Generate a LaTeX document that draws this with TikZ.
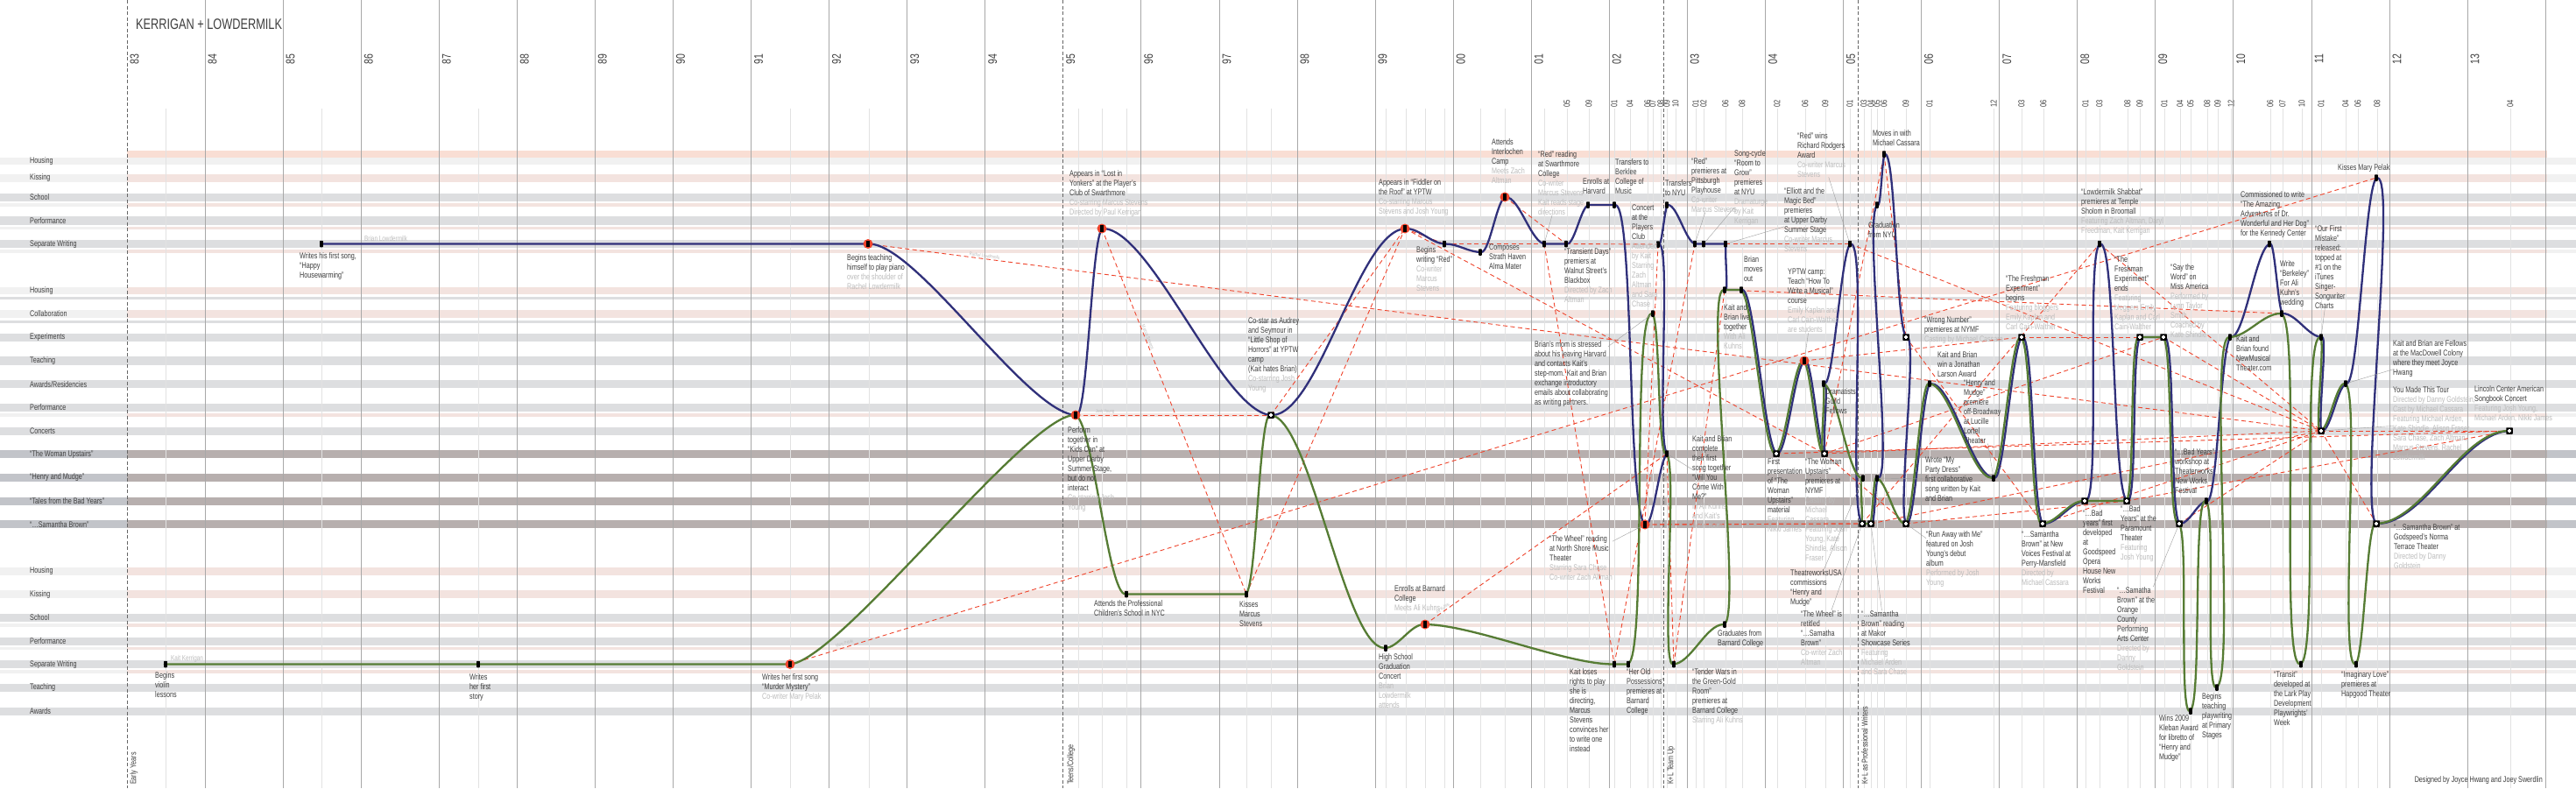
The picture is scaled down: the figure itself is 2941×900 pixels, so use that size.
\documentclass[tikz,border=0pt]{standalone}
\usepackage{fontspec}
\setmainfont[FakeStretch=0.75]{Liberation Sans}
\usetikzlibrary{calc}

\definecolor{bandgray}{RGB}{221,222,224}
\definecolor{lightband}{RGB}{241,241,241}
\definecolor{pinkband}{RGB}{243,227,223}
\definecolor{toppink}{RGB}{249,222,212}
\definecolor{projband}{RGB}{183,175,174}
\definecolor{projlabel}{RGB}{194,196,201}
\definecolor{yrgray}{RGB}{168,168,168}
\definecolor{mogray}{RGB}{226,226,226}
\definecolor{kblue}{RGB}{48,48,122}
\definecolor{kgreen}{RGB}{86,124,52}
\definecolor{kred}{RGB}{239,68,44}
\definecolor{txt}{RGB}{62,62,62}
\definecolor{subtxt}{RGB}{188,188,188}

\pgfdeclarelayer{bands}
\pgfdeclarelayer{links}
\pgfsetlayers{bands,links,main}

\newcommand\evfont{\fontsize{9.6}{11}\selectfont}
\newcommand\evsub[1]{\textcolor{subtxt}{#1}}

\tikzset{
  ev/.style={anchor=north west, align=left, inner sep=0pt, text=txt, font=\evfont},
  rowlab/.style={anchor=west, inner sep=0pt, text=txt, font=\evfont},
  yearlab/.style={rotate=90, inner sep=0pt, text=txt, font=\fontsize{14}{14}\selectfont},
  monthlab/.style={rotate=90, inner sep=0pt, text=txt, font=\fontsize{10}{10}\selectfont},
  eralab/.style={rotate=90, anchor=west, inner sep=0pt, text=txt, font=\evfont},
  tiny/.style={inner sep=0pt, text=subtxt, font=\fontsize{8.5}{9}\selectfont},
  cname/.style={inner sep=1pt, text=subtxt, font=\fontsize{5.5}{6}\selectfont},
  mk/.style={fill=black, minimum width=3.6pt, minimum height=7.5pt, inner sep=0pt, rounded corners=0.6pt},
  mkplus/.style={fill=black, minimum size=7.5pt, inner sep=0pt, rounded corners=0.6pt,
    path picture={\draw[white, line width=1.1pt, sharp corners]
      ([yshift=-1.4pt]path picture bounding box.north) -- ([yshift=1.4pt]path picture bounding box.south)
      ([xshift=1.4pt]path picture bounding box.west) -- ([xshift=-1.4pt]path picture bounding box.east);}},
  mkred/.style={circle, fill=kred, minimum size=11pt, inner sep=0pt,
    path picture={\fill[black] ([shift={(-1.8pt,-3.7pt)}]path picture bounding box.center)
      rectangle ([shift={(1.8pt,3.7pt)}]path picture bounding box.center);}},
  yrline/.style={draw=yrgray, line width=0.9pt},
  moline/.style={draw=mogray, line width=0.8pt},
  eraline/.style={draw=black!60, line width=0.9pt, dash pattern=on 4pt off 2.5pt},
  collab/.style={draw=kred, line width=0.9pt, dash pattern=on 5pt off 3.5pt},
  lead/.style={draw=black!38, line width=0.4pt},
  brian/.style={draw=kblue, line width=2.3pt, line cap=round, line join=round, transform canvas={xshift=1.2pt}},
  kait/.style={draw=kgreen, line width=2.3pt, line cap=round, line join=round, transform canvas={xshift=-1.2pt}},
  link/.style={to path={let \p1=(\tikztostart), \p2=(\tikztotarget),
    \n1={ifthenelse(\x2>=\x1,1,-1)*min(55,max(0.35*abs(\x2-\x1),0.06*abs(\y2-\y1)))} in
    .. controls ({\x1+\n1},\y1) and ({\x2-\n1},\y2) .. (\tikztotarget)}}
}

\begin{document}
\begin{tikzpicture}[x=1pt,y=-1pt]
\useasboundingbox (0,0) rectangle (2941,900);

% ---- rows, years, months
\begin{pgfonlayer}{bands}
\fill[white] (0,0) rectangle (2941,900);
\foreach \ya/\yb/\cl/\cm in {
  172.3/180/white/toppink, 180/187.5/lightband/lightband, 199.3/207.7/lightband/pinkband,
  220.7/230/bandgray/bandgray, 232.3/235.7/lightband/pinkband, 247.3/256.7/bandgray/bandgray,
  258.7/262/lightband/pinkband, 274/283.3/bandgray/bandgray, 285.3/288.7/lightband/pinkband,
  327.7/336/lightband/pinkband, 339/342.3/bandgray/bandgray, 354/362.7/lightband/pinkband,
  365.7/369/bandgray/bandgray, 381/390/bandgray/bandgray, 407.3/416.7/bandgray/bandgray,
  434/443.3/bandgray/bandgray, 461/470/bandgray/bandgray, 472.3/475.7/lightband/pinkband,
  487.7/496.7/bandgray/bandgray, 514.3/523.3/projlabel/projband, 541/550/projlabel/projband,
  567.7/576.7/projlabel/projband, 594.3/603.3/projlabel/projband, 647.7/656.7/lightband/pinkband,
  674.3/683.3/lightband/pinkband, 701/710/bandgray/bandgray, 712/715.7/lightband/pinkband,
  727.7/736.7/bandgray/bandgray, 738.7/742.3/lightband/pinkband, 754.3/763.3/bandgray/bandgray,
  765.3/769/lightband/pinkband, 781/790/bandgray/bandgray, 807.7/816.7/bandgray/bandgray}
  {\fill[\cl] (0,\ya) rectangle (2941,\yb);
   \fill[\cm] (145,\ya) rectangle (2908,\yb);}

\foreach \mx in {189,367,546,902.7,992,1231.7,1258.7,1286,1423,1451,1582.7,1605,1627,1649,1690.7,1718,1763}
  \draw[moline] (\mx,124) -- (\mx,900);
\foreach \mx/\ml in {1789/05,1814/09,1843/01,1861/04,1881/06,1887/07,1896/08,1903/09,1913/10,
  1936/01,1945/02,1970/06,1989/08,2029/02,2061/06,2084/09,2112/01,2128/03,2136/04,2143/05,
  2151/06,2176/09,2203/01,2276/12,2308/03,2333/06,2381/01,2397/03,2429/08,2443/09,2471/01,
  2489/04,2501/05,2520/08,2532/09,2547/12,2592/06,2606/07,2628/10,2650/01,2678/04,2692/06,
  2714/08,2866/04}
  {\draw[moline] (\mx,124) -- (\mx,900);
   \node[monthlab] (mo-\mx) at (\mx,118.5) {\ml};}

\foreach \i in {1,...,11,13,14,...,31}
  \draw[yrline] ({145+89.07*\i},0) -- ++(0,900);
\foreach \ex in {145,1213.8,1899,2121}
  \draw[eraline] (\ex,0) -- (\ex,900);
\end{pgfonlayer}

\foreach \yr [count=\i from 0] in {83,84,85,86,87,88,89,90,91,92,93,94,95,96,97,98,99,
  00,01,02,03,04,05,06,07,08,09,10,11,12,13}
  \node[yearlab] (yr\i) at ({153.5+89.07*\i},67.5) {\yr};

\node[anchor=west, inner sep=0pt, text=txt, font=\fontsize{17}{17}\selectfont] (title) at (155,28) {KERRIGAN + LOWDERMILK};

\foreach \ry/\rt [count=\r] in {184/Housing, 203.5/Kissing, 225.5/School, 252/Performance,
  278.7/Separate Writing, 332/Housing, 358.4/Collaboration, 385.5/Experiments, 412/Teaching,
  438.7/Awards\slash Residencies, 465.5/Performance, 492.2/Concerts,
  518.8/``The Woman Upstairs'', 545.5/``Henry and Mudge'', 572.2/``Tales from the Bad Years'',
  598.8/``…Samantha Brown'', 652.2/Housing, 678.8/Kissing, 705.5/School, 732.2/Performance,
  758.8/Separate Writing, 785.5/Teaching, 812.2/Awards}
  \node[rowlab] (row\r) at (34,\ry) {\rt};

\node[eralab] (eraEarly) at (153,896) {Early Years};
\node[eralab] (eraTeens) at (1223,896) {Teens/College};
\node[eralab] (eraTeam) at (1908,896) {K+L Team Up};
\node[eralab] (eraPro) at (2129,896) {K+L as Professional Writers};
\node[anchor=east, inner sep=0pt, text=txt, font=\evfont] (credit) at (2903,891) {Designed by Joyce Hwang and Joey Swerdlin};

% ---- event markers: Brian
\node[mk] (happy) at (367,278.5) {};
\node[mkred] (piano) at (991,278.5) {};
\node[mkred] (yonkers) at (1258,261) {};
\node[mkred] (fiddler) at (1604,261) {};
\node[mk] (redbegin) at (1649,278.5) {};
\node[mk] (strath) at (1690,288) {};
\node[mkred] (interlochen) at (1718,225) {};
\node[mk] (redread) at (1763,278.5) {};
\node[mk] (transient) at (1788,278.5) {};
\node[mk] (harvard) at (1813,234) {};
\node[mk] (berklee) at (1843,234) {};
\node[mkred] (wheel) at (1878,599) {};
\node[mk] (players) at (1893,279) {};
\node[mk] (nyu) at (1903,234) {};
\node[mk] (redpitt) at (1935,278.5) {};
\node[mk] (roomgrow) at (1945,278.5) {};
\node[mk] (elliott) at (1970,278.5) {};
\node[mk] (rodgers) at (2112,278.5) {};
\node[mk] (gradnyu) at (2143,234) {};
\node[mk] (cassara) at (2151,176) {};
\node[mk] (shabbat) at (2397,278.5) {};
\node[mk] (kennedy) at (2591,278.5) {};
\node[mk] (pelak) at (2713,203) {};
% ---- event markers: Kait
\node[mk] (violin) at (189,758.5) {};
\node[mk] (story) at (546,758.5) {};
\node[mkred] (murder) at (902,758.5) {};
\node[mk] (pcs) at (1286,678.5) {};
\node[mk] (kissmarcus) at (1423,678.5) {};
\node[mk] (hsconcert) at (1582,740) {};
\node[mkred] (barnard) at (1627,713) {};
\node[mk] (rights) at (1843,758.5) {};
\node[mk] (possessions) at (1859,758.5) {};
\node[mk] (tender) at (1911,758.5) {};
\node[mk] (gradbarnard) at (1969,713) {};
\node[mk] (twusa) at (2127,546) {};
\node[mk] (kleban) at (2501,812) {};
\node[mk] (primary) at (2531,785) {};
\node[mk] (transit) at (2627,758.5) {};
\node[mk] (imaginary) at (2690,758.5) {};
% ---- event markers: both
\node[mkred] (kidscan) at (1228,474) {};
\node[mkplus] (littleshop) at (1451,474) {};
\node[mk] (emails) at (1887,358) {};
\node[mk] (firstsong) at (1903,518) {};
\node[mk] (together) at (1969,331) {};
\node[mk] (movesout) at (1988,331) {};
\node[mkplus] (firstpres) at (2028,518) {};
\node[mkred] (teachyptw) at (2060,412) {};
\node[mkplus] (twunymf) at (2083,518) {};
\node[mk] (fellows) at (2082,438) {};
\node[mkplus] (retitled) at (2126,598) {};
\node[mkplus] (makor) at (2136,598) {};
\node[mk] (partydress) at (2143,546) {};
\node[mkplus] (wrongnum) at (2176,385) {};
\node[mkplus] (runaway) at (2176,598) {};
\node[mk] (larson) at (2203,438) {};
\node[mk] (hmlortel) at (2276,546) {};
\node[mkplus] (freshbegin) at (2308,385) {};
\node[mkplus] (newvoices) at (2332,598) {};
\node[mkplus] (goodspeed) at (2380,572) {};
\node[mkplus] (paramount) at (2428,572) {};
\node[mkplus] (freshend) at (2443,385) {};
\node[mkplus] (saytheword) at (2470,385) {};
\node[mkplus] (orange) at (2488,598) {};
\node[mk] (badworkshop) at (2519,572) {};
\node[mk] (nmt) at (2546,385) {};
\node[mk] (berkeley) at (2605,358) {};
\node[mk] (mistake) at (2650,385) {};
\node[mkplus] (tour) at (2650,492) {};
\node[mk] (macdowell) at (2678,438) {};
\node[mkplus] (norma) at (2713,598) {};
\node[mkplus] (songbook) at (2865,492) {};

% ---- collaborators and the two lives
\begin{pgfonlayer}{links}
\foreach \a/\b/\who/\p in {
  piano/tour/Rachel Lowdermilk/.08, murder/pelak/Mary Pelak/.035,
  kidscan/littleshop/Josh Young/.15, littleshop/fiddler//.5, fiddler/twunymf//.5,
  twunymf/runaway//.5, runaway/paramount//.5, paramount/songbook//.5,
  yonkers/kissmarcus/Marcus Stevens/.3, kissmarcus/fiddler//.5, fiddler/redbegin//.5,
  redbegin/redread//.5, redread/rights//.5, rights/redpitt//.5, redpitt/elliott//.5,
  elliott/rodgers//.5, rodgers/tour//.5,
  interlochen/transient//.5, transient/players//.5, players/wheel//.5, wheel/retitled//.5,
  retitled/shabbat//.5, shabbat/tour//.5, wheel/makor//.5, makor/tour//.5,
  barnard/firstsong/Ali Kuhns/.08, firstsong/tender//.5, tender/together//.5, together/berkeley//.5,
  twunymf/cassara//.5, cassara/wrongnum//.5, wrongnum/newvoices//.5, newvoices/tour//.5,
  teachyptw/freshbegin//.5, freshbegin/freshend//.5, twunymf/saytheword//.5, saytheword/tour//.5,
  orange/tour//.5, tour/norma//.5, firstpres/songbook//.5, tour/songbook//.5, twunymf/tour//.5}
  \draw[collab] (\a.center) -- node[cname,pos=\p,sloped,above] (cn-\a-\b) {\who} (\b.center);

\draw[brian] (happy.center) to[link] (piano.center) to[link] (kidscan.center)
  to[link] (yonkers.center) to[link] (littleshop.center) to[link] (fiddler.center)
  to[link] (redbegin.center) to[link] (strath.center) to[link] (interlochen.center)
  to[link] (redread.center) to[link] (transient.center) to[link] (harvard.center)
  to[link] (berklee.center) to[link] (wheel.center) to[link] (firstsong.center)
  to[link] (players.center) to[link] (nyu.center) to[link] (redpitt.center)
  to[link] (roomgrow.center) to[link] (elliott.center) to[link] (together.center)
  to[link] (movesout.center) to[link] (firstpres.center) to[link] (teachyptw.center)
  to[link] (twunymf.center) to[link] (fellows.center) to[link] (rodgers.center)
  to[link] (retitled.center) to[link] (makor.center) to[link] (partydress.center)
  to[link] (gradnyu.center) to[link] (cassara.center) to[link] (wrongnum.center)
  to[link] (runaway.center) to[link] (larson.center) to[link] (hmlortel.center)
  to[link] (freshbegin.center) to[link] (newvoices.center) to[link] (goodspeed.center)
  to[link] (shabbat.center) to[link] (paramount.center) to[link] (freshend.center)
  to[link] (saytheword.center) to[link] (orange.center) to[link] (badworkshop.center)
  to[link] (nmt.center) to[link] (kennedy.center) to[link] (berkeley.center)
  to[link] (mistake.center) to[link] (tour.center) to[link] (macdowell.center)
  to[link] (pelak.center) to[link] (norma.center) to[link] (songbook.center);

\draw[kait] (violin.center) to[link] (story.center) to[link] (murder.center)
  to[link] (kidscan.center) to[link] (pcs.center) to[link] (kissmarcus.center)
  to[link] (littleshop.center) to[link] (hsconcert.center) to[link] (barnard.center)
  to[link] (rights.center) to[link] (possessions.center) to[link] (emails.center)
  to[link] (firstsong.center) to[link] (tender.center) to[link] (gradbarnard.center)
  to[link] (together.center) to[link] (movesout.center) to[link] (firstpres.center)
  to[link] (teachyptw.center) to[link] (twunymf.center) to[link] (fellows.center)
  to[link] (twusa.center) to[link] (retitled.center) to[link] (makor.center)
  to[link] (partydress.center) to[link] (runaway.center) to[link] (larson.center)
  to[link] (hmlortel.center) to[link] (freshbegin.center) to[link] (newvoices.center)
  to[link] (goodspeed.center) to[link] (paramount.center) to[link] (freshend.center)
  to[link] (saytheword.center) to[link] (orange.center) to[link] (kleban.center)
  to[link] (badworkshop.center) to[link] (primary.center) to[link] (nmt.center)
  to[link] (berkeley.center) to[link] (transit.center) to[link] (mistake.center)
  to[link] (tour.center) to[link] (macdowell.center) to[link] (imaginary.center)
  to[link] (norma.center) to[link] (songbook.center);
\end{pgfonlayer}

% ---- texts
\node[tiny, anchor=west] (brianname) at (416,272) {Brian Lowdermilk};
\node[tiny, anchor=west] (kaitname) at (195,752) {Kait Kerrigan};

\node[ev] (happyT) at (342,288) {Writes his first song,\\``Happy\\Housewarming''};
\node[ev] (pianoT) at (967,290) {Begins teaching\\himself to play piano\\\evsub{over the shoulder of}\\\evsub{Rachel Lowdermilk}};
\node[ev] (kidscanT) at (1219,487) {Perform\\together in\\``Kids Can'' at\\Upper Darby\\Summer Stage,\\but do not\\interact\\\evsub{Co-starring Josh}\\\evsub{Young}};
\node[ev] (yonkersT) at (1221,194) {Appears in ``Lost in\\Yonkers'' at the Player's\\Club of Swarthmore\\\evsub{Co-starring Marcus Stevens}\\\evsub{Directed by Paul Kerrigan}};
\node[ev] (littleshopT) at (1425,362) {Co-star as Audrey\\and Seymour in\\``Little Shop of\\Horrors'' at YPTW\\camp\\(Kait hates Brian)\\\evsub{Co-starring Josh}\\\evsub{Young}};
\node[ev] (fiddlerT) at (1574,204) {Appears in ``Fiddler on\\the Roof'' at YPTW\\\evsub{Co-starring Marcus}\\\evsub{Stevens and Josh Young}};
\node[ev] (redbeginT) at (1617,281) {Begins\\writing ``Red''\\\evsub{Co-writer}\\\evsub{Marcus}\\\evsub{Stevens}};
\node[ev] (strathT) at (1700,279) {Composes\\Strath Haven\\Alma Mater};
\node[ev] (interlochenT) at (1703,158) {Attends\\Interlochen\\Camp\\\evsub{Meets Zach}\\\evsub{Altman}};
\node[ev] (redreadT) at (1756,172) {``Red'' reading\\at Swarthmore\\College\\\evsub{Co-writer}\\\evsub{Marcus Stevens}\\\evsub{Kait reads stage}\\\evsub{directions}};
\node[ev] (transientT) at (1786,283) {``Transient Days''\\premiers at\\Walnut Street's\\Blackbox\\\evsub{Directed by Zach}\\\evsub{Altman}};
\node[ev] (harvardT) at (1807,203) {Enrolls at\\Harvard};
\node[ev] (berkleeT) at (1844,181) {Transfers to\\Berklee\\College of\\Music};
\node[ev] (emailsT) at (1752,389) {Brian's mom is stressed\\about his leaving Harvard\\and contacts Kait's\\step-mom. Kait and Brian\\exchange introductory\\emails about collaborating\\as writing partners.};
\node[ev] (playersT) at (1863,234) {Concert\\at the\\Players\\Club\\\evsub{Attended}\\\evsub{by Kait}\\\evsub{Starring}\\\evsub{Zach}\\\evsub{Altman}\\\evsub{and Sara}\\\evsub{Chase}};
\node[ev] (nyuT) at (1901,205) {Transfers\\to NYU};
\node[ev] (wheelT) at (1769,611) {``The Wheel'' reading\\at North Shore Music\\Theater\\\evsub{Starring Sara Chase}\\\evsub{Co-writer Zach Altman}};
\node[ev] (firstsongT) at (1932,497) {Kait and Brian\\complete\\their first\\song together\\``Will You\\Come With\\Me?''\\\evsub{In Ali Kuhns}\\\evsub{and Kait's}\\\evsub{dorm room}};
\node[ev] (redpittT) at (1931,180) {``Red''\\premieres at\\Pittsburgh\\Playhouse\\\evsub{Co-writer}\\\evsub{Marcus Stevens}};
\node[ev] (roomgrowT) at (1980,171) {Song-cycle\\``Room to\\Grow''\\premieres\\at NYU\\\evsub{Dramaturge}\\\evsub{by Kait}\\\evsub{Kerrigan}};
\node[ev] (rodgersT) at (2052,151) {``Red'' wins\\Richard Rodgers\\Award\\\evsub{Co-writer Marcus}\\\evsub{Stevens}};
\node[ev] (elliottT) at (2037,214) {``Elliott and the\\Magic Bed''\\premieres\\at Upper Darby\\Summer Stage\\\evsub{Co-writer Marcus}\\\evsub{Stevens}};
\node[ev] (movesoutT) at (1991,292) {Brian\\moves\\out};
\node[ev] (togetherT) at (1968,347) {Kait and\\Brian live\\together\\\evsub{With Ali}\\\evsub{Kuhns}};
\node[ev] (teachyptwT) at (2041,307) {YPTW camp:\\Teach ``How To\\Write a Musical''\\course\\\evsub{Emily Kaplan and}\\\evsub{Carl Cain-Walther}\\\evsub{are students}};
\node[ev] (cassaraT) at (2138,148) {Moves in with\\Michael Cassara};
\node[ev] (gradnyuT) at (2133,253) {Graduation\\from NYU};
\node[ev] (wrongnumT) at (2197,361) {``Wrong Number''\\premieres at NYMF\\\evsub{Casting by Michael Cassara}};
\node[ev] (larsonT) at (2212,401) {Kait and Brian\\win a Jonathan\\Larson Award};
\node[ev] (hmlortelT) at (2242,433) {``Henry and\\Mudge''\\premiere\\off-Broadway\\at Lucille\\Lortel\\Theater};
\node[ev] (freshbeginT) at (2290,314) {``The Freshman\\Experiment''\\begins\\\evsub{Featuring bloggers}\\\evsub{Emily Kaplan and}\\\evsub{Carl Cain-Walther}};
\node[ev] (shabbatT) at (2376,215) {``Lowdermilk Shabbat''\\premieres at Temple\\Sholom in Broomall\\\evsub{Featuring Zach Altman, Daryl}\\\evsub{Freedman, Kait Kerrigan}};
\node[ev] (freshendT) at (2414,292) {``The\\Freshman\\Experiment''\\ends\\\evsub{Featuring}\\\evsub{bloggers Emily}\\\evsub{Kaplan and Carl}\\\evsub{Cain-Walther}};
\node[ev] (firstpresT) at (2018,523) {First\\presentation\\of ``The\\Woman\\Upstairs''\\material\\\evsub{Featuring}\\\evsub{Nikki James}};
\node[ev] (twunymfT) at (2061,523) {``The Woman\\Upstairs''\\premieres at\\NYMF\\\evsub{Casting by}\\\evsub{Michael}\\\evsub{Cassara}\\\evsub{Featuring Josh}\\\evsub{Young, Kate}\\\evsub{Shindle, Alison}\\\evsub{Fraser}};
\node[ev] (fellowsT) at (2084,443) {Dramatists\\Guild\\Fellows};
\node[ev] (twusaT) at (2044,650) {TheatreworksUSA\\commissions\\``Henry and\\Mudge''};
\node[ev] (retitledT) at (2056,697) {``The Wheel'' is\\retitled\\``…Samatha\\Brown''\\\evsub{Co-writer Zach}\\\evsub{Altman}};
\node[ev] (makorT) at (2125,697) {``…Samantha\\Brown'' reading\\at Makor\\Showcase Series\\\evsub{Featuring}\\\evsub{Michael Arden}\\\evsub{and Sara Chase}};
\node[ev] (partydressT) at (2198,522) {Wrote ``My\\Party Dress''\\first collaborative\\song written by Kait\\and Brian};
\node[ev] (runawayT) at (2199,606) {``Run Away with Me''\\featured on Josh\\Young's debut\\album\\\evsub{Performed by Josh}\\\evsub{Young}};
\node[ev] (newvoicesT) at (2308,606) {``…Samantha\\Brown'' at New\\Voices Festival at\\Perry-Mansfield\\\evsub{Directed by}\\\evsub{Michael Cassara}};
\node[ev] (goodspeedT) at (2378,582) {``…Bad\\years'' first\\developed\\at\\Goodspeed\\Opera\\House New\\Works\\Festival};
\node[ev] (paramountT) at (2421,577) {``…Bad\\Years'' at the\\Paramount\\Theater\\\evsub{Featuring}\\\evsub{Josh Young}};
\node[ev] (orangeT) at (2417,670) {``…Samatha\\Brown'' at the\\Orange\\County\\Performing\\Arts Center\\\evsub{Directed by}\\\evsub{Danny}\\\evsub{Goldstein}};
\node[ev] (saythewordT) at (2478,301) {``Say the\\Word'' on\\Miss America\\\evsub{Performed by}\\\evsub{Lynn Taylor}\\\evsub{Smith}\\\evsub{Coached by}\\\evsub{Kate Shindle}};
\node[ev] (badworkshopT) at (2483,512) {``…Bad Years''\\workshop at\\Theaterworks\\New Works\\Festival};
\node[ev] (klebanT) at (2465,816) {Wins 2009\\Kleban Award\\for libretto of\\``Henry and\\Mudge''};
\node[ev] (primaryT) at (2514,791) {Begins\\teaching\\playwriting\\at Primary\\Stages};
\node[ev] (nmtT) at (2553,383) {Kait and\\Brian found\\NewMusical\\Theater.com};
\node[ev] (kennedyT) at (2558,218) {Commissioned to write\\``The Amazing\\Adventures of Dr.\\Wonderful and Her Dog''\\for the Kennedy Center};
\node[ev] (berkeleyT) at (2603,297) {Write\\``Berkeley''\\For Ali\\Kuhn's\\wedding};
\node[ev] (mistakeT) at (2643,257) {``Our First\\Mistake''\\released:\\topped at\\\#1 on the\\iTunes\\Singer-\\Songwriter\\Charts};
\node[ev] (pelakT) at (2669,187) {Kisses Mary Pelak};
\node[ev] (macdowellT) at (2732,388) {Kait and Brian are Fellows\\at the MacDowell Colony\\where they meet Joyce\\Hwang};
\node[ev] (tourT) at (2732,441) {You Made This Tour\\\evsub{Directed by Danny Goldstein,}\\\evsub{Cast by Michael Cassara}\\\evsub{Featuring Michael Arden,}\\\evsub{Kate Shindle, Alison Fraser,}\\\evsub{Sara Chase, Zach Altman,}\\\evsub{Marcus Stevens, Rachel}\\\evsub{Lowdermilk}};
\node[ev] (songbookT) at (2825,440) {Lincoln Center American\\Songbook Concert\\\evsub{Featuring Josh Young,}\\\evsub{Michael Arden, Nikki James}};
\node[ev] (normaT) at (2733,598) {``…Samantha Brown'' at\\Godspeed's Norma\\Terrace Theater\\\evsub{Directed by Danny}\\\evsub{Goldstein}};
\node[ev] (transitT) at (2596,766) {``Transit''\\developed at\\the Lark Play\\Development\\Playwrights'\\Week};
\node[ev] (imaginaryT) at (2673,766) {``Imaginary Love''\\premieres at\\Hapgood Theater};
\node[ev] (violinT) at (177,767) {Begins\\violin\\lessons};
\node[ev] (storyT) at (536,769) {Writes\\her first\\story};
\node[ev] (murderT) at (870,769) {Writes her first song\\``Murder Mystery''\\\evsub{Co-writer Mary Pelak}};
\node[ev] (pcsT) at (1249,685) {Attends the Professional\\Children's School in NYC};
\node[ev] (kissmarcusT) at (1415,686) {Kisses\\Marcus\\Stevens};
\node[ev] (hsconcertT) at (1574,746) {High School\\Graduation\\Concert\\\evsub{Brian}\\\evsub{Lowdermilk}\\\evsub{attends}};
\node[ev] (barnardT) at (1592,668) {Enrolls at Barnard\\College\\\evsub{Meets Ali Kuhns}};
\node[ev] (rightsT) at (1792,763) {Kait loses\\rights to play\\she is\\directing,\\Marcus\\Stevens\\convinces her\\to write one\\instead};
\node[ev] (possessionsT) at (1857,763) {``Her Old\\Possessions''\\premieres at\\Barnard\\College};
\node[ev] (tenderT) at (1932,763) {``Tender Wars in\\the Green-Gold\\Room''\\premieres at\\Barnard College\\\evsub{Starring Ali Kuhns}};
\node[ev] (gradbarnardT) at (1961,719) {Graduates from\\Barnard College};

% ---- leaders
\foreach \t/\m in {redreadT/redread, emailsT/emails, wheelT/wheel, firstsongT/firstsong,
  redpittT/redpitt, roomgrowT/roomgrow, elliottT/elliott, rodgersT/rodgers, teachyptwT/teachyptw,
  twusaT/twusa, retitledT/retitled, makorT/makor, partydressT/partydress, runawayT/runaway,
  hmlortelT/hmlortel, orangeT/orange, mistakeT/mistake, macdowellT/macdowell, tourT/tour}
  \draw[lead] (\t) -- (\m);
\end{tikzpicture}
\end{document}
